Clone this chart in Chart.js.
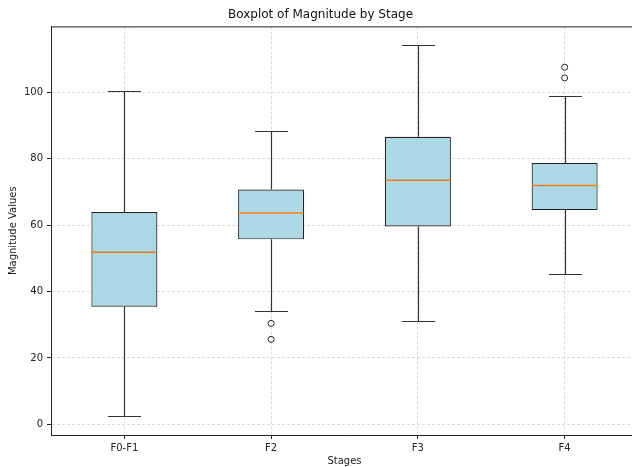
<!DOCTYPE html>
<html>
<head>
<meta charset="utf-8">
<script src="https://cdn.jsdelivr.net/npm/chart.js@4.4.1/dist/chart.umd.min.js"></script>
<style>
  html, body { margin: 0; padding: 0; background: #fff; overflow: hidden; }
  canvas { display: block; }
</style>
</head>
<body>
<canvas id="boxChart" width="643" height="467"></canvas>
<script>
// data
const stages = ["F0-F1", "F2", "F3", "F4"];
const whiskerLow = [2.5, 34.2, 31.0, 45.4];
const q1 = [35.4, 55.7, 59.6, 64.5];
const medians = [51.8, 63.6, 73.5, 71.9];
const q3 = [63.9, 70.7, 86.6, 78.7];
const whiskerHigh = [100.4, 88.3, 114.3, 98.8];
const outliers = [[], [30.4, 25.6], [], [107.5, 104.3]];

const boxRanges = stages.map((s, i) => [q1[i], q3[i]]);
const outlierPoints = [];
outliers.forEach((list, i) => list.forEach((v) => outlierPoints.push({ x: stages[i], y: v })));

// whiskers, caps, medians and the top spine
const boxExtras = {
  id: "boxExtras",
  afterDatasetsDraw(chart) {
    const ctx = chart.ctx;
    const y = chart.scales.y;
    const meta = chart.getDatasetMeta(0);
    const snap = (v) => Math.round(v) + 0.5;
    ctx.save();
    meta.data.forEach((bar, i) => {
      const cx = snap(bar.x);
      const half = bar.width / 2;
      const yHi = snap(y.getPixelForValue(whiskerHigh[i]));
      const yLo = snap(y.getPixelForValue(whiskerLow[i]));
      const yQ1 = y.getPixelForValue(q1[i]);
      const yQ3 = y.getPixelForValue(q3[i]);
      ctx.strokeStyle = "#333";
      ctx.lineWidth = 1.2;
      ctx.beginPath();
      ctx.moveTo(cx, yQ3); ctx.lineTo(cx, yHi);
      ctx.moveTo(cx, yQ1); ctx.lineTo(cx, yLo);
      ctx.moveTo(cx - half / 2, yHi); ctx.lineTo(cx + half / 2, yHi);
      ctx.moveTo(cx - half / 2, yLo); ctx.lineTo(cx + half / 2, yLo);
      ctx.stroke();
      const yMed = y.getPixelForValue(medians[i]);
      ctx.strokeStyle = "#ff7f0e";
      ctx.lineWidth = 1.5;
      ctx.beginPath();
      ctx.moveTo(bar.x - half + 0.6, yMed); ctx.lineTo(bar.x + half - 0.6, yMed);
      ctx.stroke();
    });
    const a = chart.chartArea;
    ctx.strokeStyle = "#222";
    ctx.lineWidth = 1;
    ctx.beginPath();
    ctx.moveTo(a.left, a.top + 0.5); ctx.lineTo(a.right, a.top + 0.5);
    ctx.stroke();
    ctx.restore();
  },
};

Chart.defaults.font.family = "'DejaVu Sans', sans-serif";
Chart.defaults.color = "#222";

try {
  const ctx1 = document.getElementById("boxChart").getContext("2d");
  new Chart(ctx1, {
    type: "bar",
    data: {
      labels: stages,
      datasets: [
        {
          label: "box",
          data: boxRanges,
          backgroundColor: "#add8e6",
          borderColor: "#222",
          borderWidth: 1.2,
          borderSkipped: false,
          barPercentage: 0.45,
          categoryPercentage: 1.0,
          order: 2,
        },
        {
          type: "line",
          label: "outliers",
          data: outlierPoints,
          showLine: false,
          pointStyle: "circle",
          pointRadius: 3,
          pointBorderWidth: 1,
          pointBorderColor: "#222",
          pointBackgroundColor: "rgba(0,0,0,0)",
          order: 1,
        },
      ],
    },
    options: {
      responsive: false,
      animation: false,
      layout: { padding: { left: 0, right: 2, top: 0, bottom: 0 } },
      scales: {
        x: {
          offset: true,
          grid: {
            offset: false,
            color: "rgba(190,190,190,0.7)",
            lineWidth: 0.8,
            tickColor: "#222",
            tickLength: 4,
            tickWidth: 1,
          },
          border: { color: "#222", width: 1, dash: [3, 2] },
          ticks: { font: { size: 10 }, padding: 3 },
          title: {
            display: true,
            text: "Stages",
            font: { size: 10 },
            padding: { top: 0, bottom: 0 },
          },
          afterFit(scale) { scale.height = 32; },
        },
        y: {
          min: -3.2,
          max: 119.8,
          grid: {
            color: "rgba(190,190,190,0.7)",
            lineWidth: 0.8,
            tickColor: "#222",
            tickLength: 4,
            tickWidth: 1,
          },
          border: { color: "#222", width: 1, dash: [3, 2] },
          ticks: { stepSize: 20, includeBounds: false, font: { size: 10 }, padding: 4 },
          title: {
            display: true,
            text: "Magnitude Values",
            font: { size: 10 },
            padding: { top: 7, bottom: 0 },
          },
          afterFit(scale) { scale.width = 51; },
        },
      },
      plugins: {
        legend: { display: false },
        tooltip: { enabled: false },
        title: {
          display: true,
          text: "Boxplot of Magnitude by Stage",
          font: { size: 12, weight: "normal" },
          color: "#111",
          padding: { top: 8, bottom: 4 },
        },
      },
    },
    plugins: [boxExtras],
  });
} catch (e) {
  console.error("boxplot error:", e);
}
</script>
</body>
</html>
